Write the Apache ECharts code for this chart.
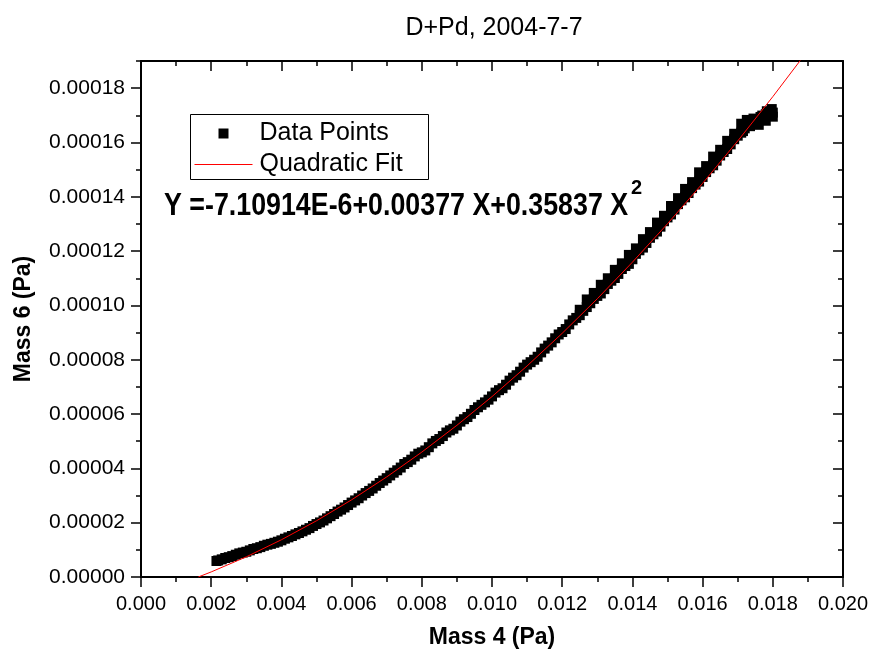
<!DOCTYPE html>
<html>
<head>
<meta charset="utf-8">
<title>D+Pd, 2004-7-7</title>
<script src="https://cdn.jsdelivr.net/npm/echarts@6/dist/echarts.min.js"></script>
<style>
    html, body { margin: 0; padding: 0; background: #fff; }
    #chart { width: 874px; height: 657px; }
</style>
</head>
<body>
<div id="chart"></div>
<script>
// texts
var titleText = 'D+Pd, 2004-7-7';
var xName = 'Mass 4 (Pa)';
var yName = 'Mass 6 (Pa)';
var legendNames = ['Data Points', 'Quadratic Fit'];
var fitEquation = 'Y =-7.10914E-6+0.00377 X+0.35837 X';
var fitPower = '2';

// axes
var xMin = 0, xMax = 0.020, xStep = 0.002;
var yMin = 0, yMax = 0.00019;
var yMajorTicks = [0, 0.00002, 0.00004, 0.00006, 0.00008, 0.00010, 0.00012, 0.00014, 0.00016, 0.00018];
var yMinorTicks = [0.00001, 0.00003, 0.00005, 0.00007, 0.00009, 0.00011, 0.00013, 0.00015, 0.00017, 0.00019];

var dataX = [
    0.00215, 0.0022, 0.0023, 0.0024, 0.0025, 0.0026, 0.0027, 0.0028, 0.0029, 0.0030,
    0.0031, 0.0032, 0.0033, 0.0034, 0.0035, 0.0036, 0.0037, 0.0038, 0.0039, 0.0040,
    0.0041, 0.0042, 0.0043, 0.0044, 0.0045, 0.0046, 0.0047, 0.0048, 0.0049, 0.0050,
    0.0051, 0.0052, 0.0053, 0.0054, 0.0055, 0.0056, 0.0057, 0.0058, 0.0059, 0.0060,
    0.0061, 0.0062, 0.0063, 0.0064, 0.0065, 0.0066, 0.0067, 0.0068, 0.0069, 0.0070,
    0.0071, 0.0072, 0.0073, 0.0074, 0.0075, 0.0076, 0.0077, 0.0078, 0.0079, 0.0080,
    0.0081, 0.0082, 0.0083, 0.0084, 0.0085, 0.0086, 0.0087, 0.0088, 0.0089, 0.0090,
    0.0091, 0.0092, 0.0093, 0.0094, 0.0095, 0.0096, 0.0097, 0.0098, 0.0099, 0.0100,
    0.0101, 0.0102, 0.0103, 0.0104, 0.0105, 0.0106, 0.0107, 0.0108, 0.0109, 0.0110,
    0.0111, 0.0112, 0.0113, 0.0114, 0.0115, 0.0116, 0.0117, 0.0118, 0.0119, 0.0120,
    0.0121, 0.0122, 0.0123, 0.0124, 0.0125, 0.0126, 0.0127, 0.0128, 0.0129, 0.0130,
    0.0131, 0.0132, 0.0133, 0.0134, 0.0135, 0.0136, 0.0137, 0.0138, 0.0139, 0.0140,
    0.0141, 0.0142, 0.0143, 0.0144, 0.0145, 0.0146, 0.0147, 0.0148, 0.0149, 0.0150,
    0.0151, 0.0152, 0.0153, 0.0154, 0.0155, 0.0156, 0.0157, 0.0158, 0.0159, 0.0160,
    0.0161, 0.0162, 0.0163, 0.0164, 0.0165, 0.0166, 0.0167, 0.0168, 0.0169, 0.0170,
    0.0171, 0.01715, 0.0172, 0.01726, 0.0173, 0.01735, 0.0174, 0.01745, 0.0175, 0.01755,
    0.0176, 0.01765, 0.0177, 0.01775, 0.0178, 0.01783, 0.01787, 0.0179, 0.01795, 0.01797,
    0.0180, 0.0180
];
var dataY_e6 = [
    5.9, 6.1, 6.5, 7.0, 7.3, 7.7, 8.2, 8.7, 9.0, 9.3,
    9.8, 10.3, 10.6, 11.0, 11.5, 11.9, 12.2, 12.6, 13.0, 13.5,
    14.1, 14.6, 15.1, 15.7, 16.2, 16.8, 17.4, 18.0, 18.8, 19.5,
    20.1, 20.8, 21.6, 22.4, 23.2, 24.1, 24.8, 25.6, 26.5, 27.4,
    28.2, 29.0, 30.0, 30.9, 31.7, 32.6, 33.6, 34.6, 35.5, 36.4,
    37.4, 38.4, 39.3, 40.3, 41.6, 42.3, 43.2, 44.4, 45.4, 45.9,
    46.6, 47.8, 49.2, 50.1, 50.8, 51.9, 53.2, 54.0, 54.6, 55.8,
    57.2, 58.1, 58.9, 60.1, 61.5, 62.5, 63.4, 64.3, 65.3, 66.5,
    67.9, 68.8, 69.5, 70.8, 72.3, 73.4, 74.3, 75.6, 77.1, 78.2,
    79.1, 80.0, 81.1, 82.7, 84.1, 85.2, 86.4, 87.9, 89.3, 90.2,
    91.3, 93.0, 94.5, 95.4, 96.4, 98.0, 99.4, 100.8, 102.4, 103.5,
    104.4, 106.0, 107.9, 109.1, 110.1, 111.6, 113.4, 114.5, 115.3, 117.0,
    119.0, 120.3, 121.3, 123.0, 124.9, 126.2, 127.2, 129.0, 131.0, 132.4,
    133.5, 135.3, 137.3, 138.7, 139.8, 141.4, 143.2, 144.5, 145.6, 147.3,
    149.1, 150.5, 151.6, 153.3, 155.2, 156.5, 157.6, 159.3, 161.2, 162.5,
    163.6, 164.2, 165.2, 168.3, 166.8, 166.0, 168.0, 168.8, 167.9, 167.5,
    168.6, 169.4, 169.9, 168.8, 170.4, 171.5, 170.6, 170.2, 171.4, 172.3,
    169.5, 171.0
];

// points sitting above the main trace in the upper part (widens the band there)
var strayX = [
    0.0125, 0.0127, 0.0129, 0.0131, 0.0133, 0.0135, 0.0137, 0.0139, 0.0141, 0.0143,
    0.0145, 0.0147, 0.0149, 0.0151, 0.0153, 0.0155, 0.0157, 0.0159, 0.0161, 0.0163,
    0.0165, 0.0167, 0.0169, 0.0171, 0.0176, 0.0178
];
var strayY_e6 = [
    98.4, 102.2, 104.6, 107.6, 110.0, 113.1, 115.5, 118.6, 121.0, 124.4,
    127.0, 130.5, 133.0, 136.6, 139.5, 142.9, 145.4, 149.0, 151.3, 154.8,
    157.3, 160.6, 163.2, 166.9, 166.5, 168.0
];

// quadratic fit line (values of the fitted curve), y in 1e-6 Pa
var fitX = [0.001632, 0.002, 0.003, 0.004, 0.005, 0.006, 0.007, 0.008, 0.009, 0.010,
    0.011, 0.012, 0.013, 0.014, 0.015, 0.016, 0.017, 0.018, 0.019];
var fitY_e6 = [0, 1.865, 7.426, 13.705, 20.700, 28.412, 36.841, 45.987, 55.849, 66.428,
    77.724, 89.736, 102.466, 115.912, 130.074, 144.954, 160.550, 176.863, 193.893];

var FONT = 'Liberation Sans, Arial, Helvetica, sans-serif';
var EQ_FONT = 'bold 26.8px ' + FONT;

var pairs = function(xs, ys, k) {
    var out = [];
    for (var i = 0; i < xs.length; i++) {
        out.push([xs[i], ys[i] * k]);
    }
    return out;
};

// width of the equation text, so the exponent can sit right after it
var textWidth = function(text, font) {
    var ctx = document.createElement('canvas').getContext('2d');
    ctx.font = font;
    return ctx.measureText(text).width;
};

var axisLineStyle = { color: '#000', width: 2 };
var tickLineStyle = { color: '#000', width: 1.5 };

var xAxisBase = function(pos) {
    var bottom = pos === 'bottom';
    return {
        type: 'value',
        position: pos,
        min: xMin,
        max: xMax,
        interval: xStep,
        axisLine: { show: true, onZero: false, lineStyle: axisLineStyle },
        axisTick: { show: true, inside: !bottom, length: 10, lineStyle: tickLineStyle },
        minorTick: { show: true, splitNumber: 2, length: 5, lineStyle: tickLineStyle },
        axisLabel: {
            show: bottom,
            margin: 17,
            fontSize: 20,
            color: '#000',
            fontFamily: FONT,
            formatter: function(v) { return v.toFixed(3); }
        },
        splitLine: { show: false },
        minorSplitLine: { show: false },
        name: bottom ? xName : '',
        nameLocation: 'middle',
        nameGap: 49,
        nameTextStyle: { fontSize: 23, fontWeight: 'bold', color: '#000', fontFamily: FONT }
    };
};

var yAxisBase = function(pos, ticks, len, withLine) {
    var left = pos === 'left';
    var major = ticks === yMajorTicks;
    return {
        type: 'value',
        position: pos,
        min: yMin,
        max: yMax,
        axisLine: { show: withLine, onZero: false, lineStyle: axisLineStyle },
        axisTick: { show: true, inside: !left, length: len, customValues: ticks, lineStyle: tickLineStyle },
        axisLabel: {
            show: left && major,
            customValues: yMajorTicks,
            margin: 16,
            fontSize: 21,
            color: '#000',
            fontFamily: FONT,
            formatter: function(v) { return v.toFixed(5); }
        },
        splitLine: { show: false },
        name: (left && major) ? yName : '',
        nameLocation: 'middle',
        nameGap: 106,
        nameTextStyle: { fontSize: 23, fontWeight: 'bold', color: '#000', fontFamily: FONT }
    };
};

var scatterStyle = {
    type: 'scatter',
    xAxisIndex: 0,
    yAxisIndex: 0,
    symbol: 'rect',
    symbolSize: 10,
    itemStyle: { color: '#000', opacity: 1 },
    emphasis: { disabled: true },
    z: 2
};

var chart = echarts.init(document.getElementById('chart'));

var eqLeft = 164;
var eqWidth = textWidth(fitEquation, EQ_FONT);

var option = {
    backgroundColor: '#fff',
    animation: false,
    title: {
        text: titleText,
        left: 489,
        top: 11,
        textAlign: 'center',
        textStyle: { fontSize: 25, fontWeight: 'normal', color: '#000', fontFamily: FONT }
    },
    grid: { left: 141, right: 31, top: 61, bottom: 80, containLabel: false },
    xAxis: [xAxisBase('bottom'), xAxisBase('top')],
    yAxis: [
        yAxisBase('left', yMajorTicks, 10, true),
        yAxisBase('left', yMinorTicks, 5, false),
        yAxisBase('right', yMajorTicks, 10, true),
        yAxisBase('right', yMinorTicks, 5, false)
    ],
    series: [
        echarts.util.extend({ name: legendNames[0], data: pairs(dataX, dataY_e6, 1e-6) }, scatterStyle),
        echarts.util.extend({ name: legendNames[0] + ' (upper)', data: pairs(strayX, strayY_e6, 1e-6) }, scatterStyle),
        {
            name: legendNames[1],
            type: 'line',
            xAxisIndex: 0,
            yAxisIndex: 0,
            showSymbol: false,
            symbol: 'none',
            lineStyle: { color: '#ff0000', width: 1 },
            emphasis: { disabled: true },
            clip: true,
            data: pairs(fitX, fitY_e6, 1e-6),
            z: 3
        }
    ],
    graphic: [
        // legend box
        {
            type: 'group',
            left: 190,
            top: 114,
            children: [
                { type: 'rect', shape: { x: 0, y: 0, width: 238, height: 65 }, style: { fill: '#fff', stroke: '#000', lineWidth: 1 } },
                { type: 'rect', shape: { x: 28, y: 14, width: 10, height: 10 }, style: { fill: '#000' } },
                { type: 'text', style: { x: 69, y: 19, text: legendNames[0], font: '25px ' + FONT, fill: '#000', textVerticalAlign: 'middle' } },
                { type: 'line', shape: { x1: 4, y1: 50, x2: 62, y2: 50 }, style: { stroke: '#ff0000', lineWidth: 1 } },
                { type: 'text', style: { x: 69, y: 50, text: legendNames[1], font: '25px ' + FONT, fill: '#000', textVerticalAlign: 'middle' } }
            ]
        },
        // fit equation
        {
            type: 'text',
            x: eqLeft,
            y: 191,
            scaleY: 1.15,
            style: { text: fitEquation, font: EQ_FONT, fill: '#000', textVerticalAlign: 'top' }
        },
        // exponent
        {
            type: 'text',
            x: eqLeft + eqWidth + 3,
            y: 178,
            style: { text: fitPower, font: 'bold 20px ' + FONT, fill: '#000', textVerticalAlign: 'top' }
        }
    ]
};

chart.setOption(option);
window.addEventListener('resize', function() {
    chart.resize();
});
</script>
</body>
</html>
